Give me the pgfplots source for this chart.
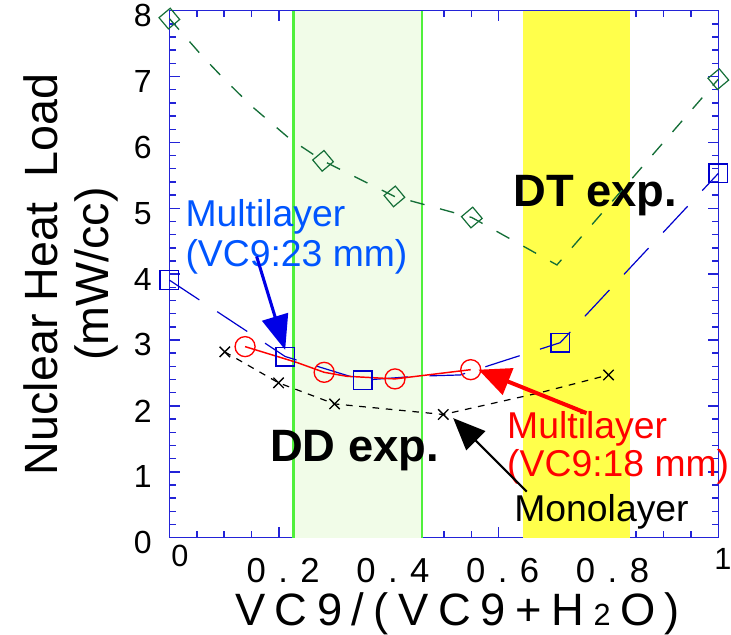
\documentclass[border=0pt]{standalone}
\usepackage{fontspec}
\setmainfont{Liberation Sans}
\usepackage{pgfplots}
\pgfplotsset{compat=1.18}
\usetikzlibrary{arrows.meta}

\definecolor{axisblue}{RGB}{35,35,215}
\definecolor{sqblue}{RGB}{0,0,205}
\definecolor{txtblue}{RGB}{0,85,255}
\definecolor{arrblue}{RGB}{0,0,230}
\definecolor{dgreen}{RGB}{20,110,55}
\definecolor{bgreen}{RGB}{80,240,60}
\definecolor{lgreen}{RGB}{241,252,232}
\definecolor{yel}{RGB}{255,255,75}

\newcommand{\lsp}{\kern0.21em}
\newcommand{\tsp}{\hspace{0.36em}}
\newcommand{\fs}[1]{\fontsize{#1}{#1}\selectfont}

\begin{document}
\begin{tikzpicture}
\begin{axis}[
  name=ax,
  scale only axis,
  width=411.75pt, height=395.25pt,
  xmin=0, xmax=1, ymin=0, ymax=8,
  clip=false,
  axis line style={axisblue, line width=1.1pt},
  every tick/.style={axisblue, line width=1.1pt},
  tick align=inside,
  major tick length=8pt, minor tick length=5pt,
  xtick={0,0.2,0.4,0.6,0.8,1},
  minor x tick num=3,
  ytick={0,1,2,3,4,5,6,7,8},
  minor y tick num=4,
  /pgf/number format/assume math mode=true,
  xticklabels={
    \raisebox{12pt}{\fs{23pt}\hspace*{10pt}0},
    0\tsp.\tsp2,
    0\tsp.\tsp4,
    0\tsp.\tsp6,
    0\tsp.\tsp8,
    \raisebox{9.5pt}{\fs{23pt}\hspace*{1pt}1}},
  xticklabel style={font=\fs{26pt}, anchor=base, inner sep=0pt, yshift=-33.5pt, xshift=3pt},
  yticklabel style={font=\fs{24pt}, anchor=east, inner sep=0pt, xshift=-13pt, yshift=-3.7pt},
  xlabel={V\lsp C\lsp 9\lsp /\lsp (\lsp V\lsp C\lsp 9\lsp +\lsp H\lsp{\fs{23pt}2}\lsp O\lsp )},
  xlabel style={font=\fs{34pt}, at={(rel axis cs:0.525,0)}, anchor=base, inner sep=0pt, yshift=-65.8pt},
  ylabel={Nuclear Heat~~Load\\(mW/cc)},
  ylabel style={font=\fontsize{35pt}{38pt}\selectfont, align=center, at={(rel axis cs:-0.093,0.5)}, anchor=south, inner sep=0pt},
]

% experiment windows
\fill[lgreen] (axis cs:0.226,0) rectangle (axis cs:0.460,8);
\draw[bgreen, line width=1.7pt] (axis cs:0.226,0) -- (axis cs:0.226,8);
\draw[bgreen, line width=1.7pt] (axis cs:0.460,0) -- (axis cs:0.460,8);
\fill[yel] (axis cs:0.644,0) rectangle (axis cs:0.840,8);

% labels of the windows
\node[anchor=base west, inner sep=0pt, font=\fs{34pt}\bfseries] at (axis cs:0.626,5.02) {DT exp.};
\node[anchor=base west, inner sep=0pt, font=\fs{34pt}\bfseries] at (axis cs:0.183,1.16) {DD exp.};

% without VC9 layer optimisation: green diamonds
\addplot[dgreen, line width=1pt, dash pattern=on 11pt off 12pt,
  mark=square, mark size=5.5pt, mark options={solid, rotate=40, line width=0.9pt},
  mark indices={1,6,7,8,10}]
  coordinates {(0,7.88) (0.06,7.31) (0.10,6.96) (0.15,6.55) (0.22,6.05)
               (0.28,5.72) (0.41,5.18) (0.551,4.86) (0.706,4.14) (1.0,6.96)};

% multilayer, VC9 23 mm: blue squares
\addplot[sqblue, line width=0.9pt, dash pattern=on 27pt off 16pt,
  mark=square, mark size=7pt, mark options={solid, line width=1pt},
  mark indices={1,2,3,7,8}]
  coordinates {(0,3.91) (0.211,2.75) (0.352,2.39) (0.45,2.45) (0.53,2.47)
               (0.6,2.66) (0.712,2.96) (1.0,5.53)};

% multilayer, VC9 18 mm: red circles
\addplot[red, line width=1.1pt, mark=o, mark size=7.5pt,
  mark options={solid, line width=1pt}, mark indices={1,3,5,6}]
  coordinates {(0.138,2.90) (0.232,2.66) (0.282,2.51) (0.323,2.45)
               (0.411,2.41) (0.549,2.55)};

% monolayer: black crosses
\addplot[black, line width=0.9pt, dash pattern=on 5pt off 5pt,
  mark=x, mark size=5.5pt, mark options={solid, line width=1pt},
  mark indices={1,2,3,4,6}]
  coordinates {(0.101,2.82) (0.199,2.35) (0.301,2.03) (0.499,1.87)
               (0.675,2.20) (0.80,2.47)};

% annotations
\node[anchor=base west, inner sep=0pt, font=\fs{28pt}, text=txtblue] at (axis cs:0.029,4.73) {Multilayer};
\node[anchor=base west, inner sep=0pt, font=\fs{28pt}, text=txtblue] at (axis cs:0.029,4.12) {(VC9:23 mm)};
\draw[arrblue, line width=2.3pt, -{Triangle[length=26pt, width=20pt]}]
  (axis cs:0.159,4.27) -- (axis cs:0.211,2.85);

\node[anchor=base west, inner sep=0pt, font=\fs{28pt}, text=red] at (axis cs:0.615,1.51) {Multilayer};
\node[anchor=base west, inner sep=0pt, font=\fs{28pt}, text=red] at (axis cs:0.615,0.93) {(VC9:18 mm)};
\draw[red, line width=3pt, -{Triangle[length=24pt, width=21pt]}]
  (axis cs:0.760,1.89) -- (axis cs:0.563,2.55);

\node[anchor=base west, inner sep=0pt, font=\fs{28pt}] at (axis cs:0.628,0.24) {Monolayer};
\draw[black, line width=1.6pt, -{Triangle[length=24pt, width=20pt]}]
  (axis cs:0.651,0.70) -- (axis cs:0.517,1.815);

\end{axis}
\pgfresetboundingbox
\path[use as bounding box] ([shift={(-127pt,-73pt)}]ax.south west) rectangle ([shift={(9.5pt,8pt)}]ax.north east);
\end{tikzpicture}
\end{document}
